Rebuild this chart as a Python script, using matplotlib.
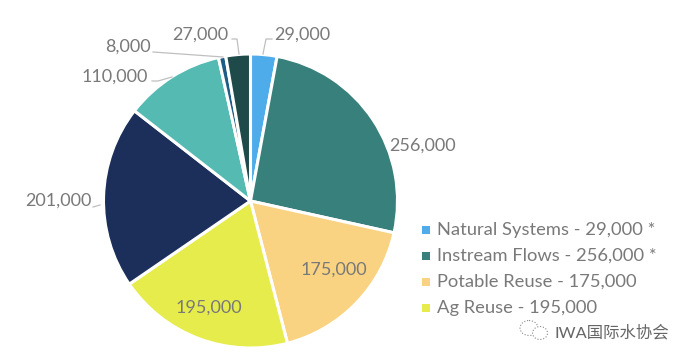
import matplotlib
matplotlib.use("Agg")
import matplotlib.pyplot as plt
from matplotlib.patches import Ellipse, Rectangle

values = [29000, 256000, 175000, 195000, 201000, 110000, 8000, 27000]
colors = ['#4FACEA', '#37807B', '#F9D382', '#E6EC4C', '#1B2F5A', '#55BAB2', '#1F5C85', '#1E4A4A']
labels = ['29,000', '256,000', '175,000', '195,000', '201,000', '110,000', '8,000', '27,000']
legend_labels = ['Natural Systems - 29,000 *', 'Instream Flows - 256,000 *',
                 'Potable Reuse - 175,000', 'Ag Reuse - 195,000']
label_xy = [(302, 34.5), (423, 146), (334, 270), (209, 308), (58, 201), (115, 77), (127.5, 47), (200, 34.5)]
legend_y = [230, 256, 282, 308]
leaders = [[(263, 54), (266, 39), (272, 39)],
           [(100, 205), (93, 207)],
           [(239, 54), (237, 39), (232, 39)],
           [(223, 57), (153, 52)],
           [(172, 77), (158, 81), (152, 81)]]

plt.rcParams['font.family'] = ['Lato', 'Noto Sans CJK SC', 'DejaVu Sans']
TXT = '#797979'
fig = plt.figure(figsize=(6.91, 3.62), dpi=100, facecolor='white')

ax2 = fig.add_axes([0, 0, 1, 1])
ax2.pie(values, colors=colors, startangle=90, counterclock=False, center=(250.5, 362 - 201), radius=147,
        wedgeprops=dict(edgecolor='white', linewidth=2.2), frame=True)
ax2.set_xlim(0, 691)
ax2.set_ylim(0, 362)
ax2.set_aspect('equal')
ax2.axis('off')

ax3 = fig.add_axes([0, 0, 1, 1])
ax3.set_xlim(0, 691)
ax3.set_ylim(362, 0)
ax3.axis('off')
ax3.patch.set_alpha(0)

for pts in leaders:
    ax3.plot([p[0] for p in pts], [p[1] for p in pts], color='#BFBFBF', lw=0.9)
for lab, (x, y) in zip(labels, label_xy):
    ax3.text(x, y, lab, ha='center', va='center', fontsize=13, color=TXT)
for lab, col, y in zip(legend_labels, colors[:4], legend_y):
    ax3.add_patch(Rectangle((422, y - 4), 8, 8, facecolor=col, edgecolor='none'))
    ax3.text(437, y, lab, ha='left', va='center', fontsize=13.2, color=TXT)

# watermark
ax3.add_patch(Ellipse((529, 328), 18, 15, facecolor='white', edgecolor='#888888', lw=0.8, ls=':'))
ax3.add_patch(Ellipse((540, 333), 15, 13, facecolor='white', edgecolor='#888888', lw=0.8, ls=':'))
ax3.text(555, 333, 'IWA国际水协会', ha='left', va='center', fontsize=11.8, color='#666666')

fig.savefig('out.png', dpi=100, facecolor='white')
